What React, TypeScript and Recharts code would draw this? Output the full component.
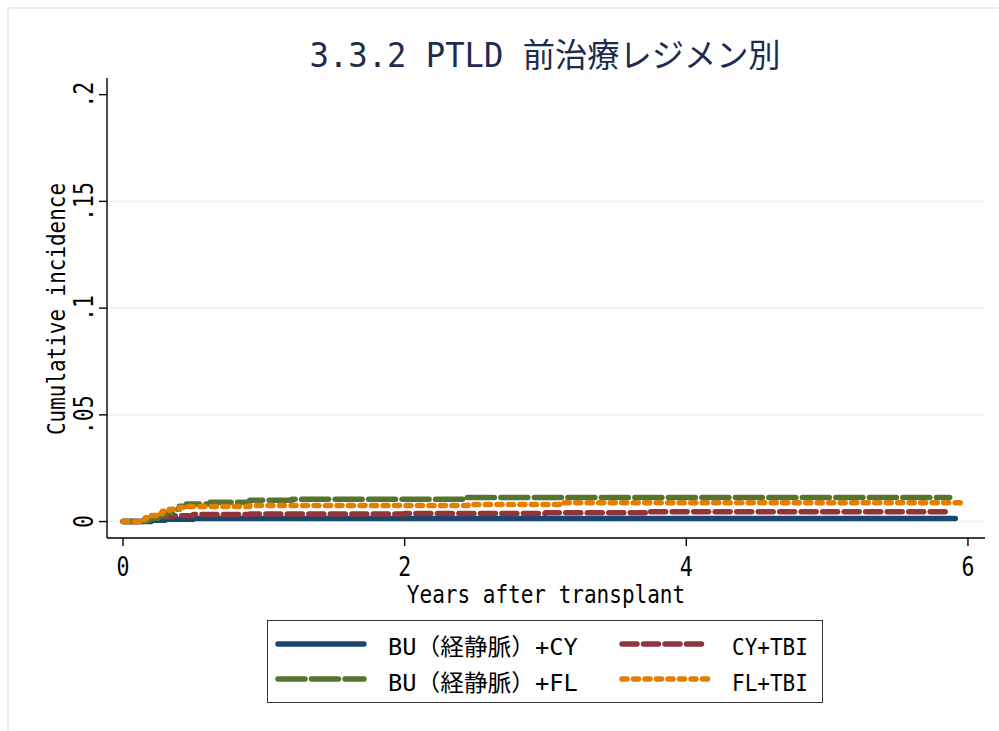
import React from "react";
import { LineChart, Line, XAxis, YAxis, CartesianGrid, Legend } from "recharts";

// cumulative incidence step points
const buCyYears = [0, 0.2, 0.3, 0.5, 5.91];
const buCyInc = [0, 0.0006, 0.0011, 0.0014, 0.0014];

const cyTbiYears = [0, 0.15, 0.2, 0.27, 0.35, 0.5, 0.9, 2.0, 3.0, 3.72, 5.88];
const cyTbiInc = [0, 0.0008, 0.0015, 0.0022, 0.0027, 0.0033, 0.0036, 0.0038, 0.0041, 0.0046, 0.0046];

const buFlYears = [0, 0.15, 0.2, 0.25, 0.3, 0.35, 0.4, 0.45, 0.62, 0.9, 1.2, 2.43, 5.87];
const buFlInc = [0, 0.0005, 0.0015, 0.0027, 0.0042, 0.0058, 0.0072, 0.0082, 0.0091, 0.01, 0.0105, 0.0113, 0.0113];

const flTbiYears = [0, 0.12, 0.16, 0.2, 0.24, 0.28, 0.33, 0.4, 0.45, 0.9, 2.45, 3.12, 5.96];
const flTbiInc = [0, 0.0008, 0.0018, 0.0028, 0.0038, 0.0048, 0.0058, 0.0066, 0.0071, 0.0075, 0.008, 0.0088, 0.0088];

const seriesNames = ["BU（経静脈）+CY", "CY+TBI", "BU（経静脈）+FL", "FL+TBI"];
const xTicks = [0, 2, 4, 6];
const yTicks = [0, 0.05, 0.1, 0.15, 0.2];
const yTickLabels = ["0", ".05", ".1", ".15", ".2"];
const gridValues = [0, 0.05, 0.1, 0.15];

const colors = ["#1a476f", "#90353b", "#55752f", "#e37e00"];
const dashes = ["", "15 6.5", "27 6.5", "5 6.5"];

const toRows = (years: number[], inc: number[]) => years.map((t, i) => ({ t, v: inc[i] }));
const seriesData = [
  toRows(buCyYears, buCyInc),
  toRows(cyTbiYears, cyTbiInc),
  toRows(buFlYears, buFlInc),
  toRows(flTbiYears, flTbiInc),
];

const FONT = "'DejaVu Sans Mono', 'Noto Sans CJK JP', monospace";

// width in "em" units as in a half/full-width gothic font
const emCount = (s: string) =>
  [...s].reduce((n, c) => n + (c.charCodeAt(0) > 0x2e80 ? 1 : 0.5), 0);

function Txt({ x, y, s, size, em, anchor = "middle", fill = "#000", rotate = 0 }: any) {
  return (
    <text
      transform={`translate(${x},${y}) rotate(${rotate})`}
      textAnchor={anchor}
      fontFamily={FONT}
      fontSize={size}
      fill={fill}
      textLength={emCount(s) * em}
      lengthAdjust="spacingAndGlyphs"
    >
      {s}
    </text>
  );
}

const XTick = (props: any) => (
  <Txt x={props.x} y={props.y + 30} s={String(props.payload.value)} size={27} em={26} />
);

const YTick = (props: any) => {
  const idx = yTicks.indexOf(props.payload.value);
  return <Txt x={props.x - 6} y={props.y} s={yTickLabels[idx]} size={27} em={26} rotate={-90} />;
};

// legend laid out like Stata: series 1,2 on row one, 3,4 on row two
const renderLegend = (props: any) => {
  const items = props.payload || [];
  return (
    <div style={{ width: 556, height: 83, border: "1px solid #333", boxSizing: "border-box", background: "#fff" }}>
      <svg width={554} height={81} style={{ display: "block" }}>
        {items.map((it: any) => {
          const i = seriesNames.indexOf(it.value);
          const col = i % 2;
          const row = Math.floor(i / 2);
          const x0 = col === 0 ? 8 : 352;
          const ly = row === 0 ? 23 : 58;
          const ty = row === 0 ? 34 : 70;
          return (
            <g key={it.value}>
              <line
                x1={x0 + 2}
                x2={x0 + 88}
                y1={ly}
                y2={ly}
                stroke={it.color}
                strokeWidth={5.5}
                strokeLinecap="round"
                strokeDasharray={dashes[i] || undefined}
              />
              <Txt x={x0 + 112} y={ty} s={it.value} size={23} em={25.3} anchor="start" />
            </g>
          );
        })}
      </svg>
    </div>
  );
};

export default function App() {
  return (
    <div style={{ position: "absolute", left: 0, top: 0, width: 999, height: 731, background: "#fff", overflow: "hidden" }}>
      <div
        style={{
          position: "absolute",
          left: 7,
          top: 7,
          width: 1000,
          height: 740,
          borderTop: "2px solid #e6eeee",
          borderLeft: "2px solid #e6eeee",
        }}
      />
      <svg width={999} height={100} style={{ position: "absolute", left: 0, top: 0 }}>
        <Txt x={545} y={67} s="3.3.2 PTLD 前治療レジメン別" size={33} em={34.9} fill="#1d2b4f" />
      </svg>
      <div style={{ position: "absolute", left: 0, top: 0 }}>
        <LineChart width={999} height={731} margin={{ top: 78, right: 14, bottom: 0, left: 0 }}>
          <CartesianGrid
            vertical={false}
            horizontalValues={gridValues}
            stroke="#eaf2f3"
            strokeWidth={2}
          />
          <XAxis
            type="number"
            dataKey="t"
            domain={[-0.1136, 6.121]}
            allowDataOverflow
            ticks={xTicks}
            height={193}
            tickSize={8}
            tickMargin={0}
            stroke="#000"
            strokeWidth={1.4}
            tick={XTick}
            label={{
              content: () => (
                <Txt x={546} y={603} s="Years after transplant" size={24} em={25.3} />
              ),
            }}
          />
          <YAxis
            type="number"
            domain={[-0.0077, 0.2078]}
            allowDataOverflow
            ticks={yTicks}
            width={107}
            tickSize={8}
            tickMargin={0}
            stroke="#000"
            strokeWidth={1.4}
            tick={YTick}
            label={{
              content: () => (
                <Txt x={65} y={309} s="Cumulative incidence" size={24} em={25.2} rotate={-90} />
              ),
            }}
          />
          {seriesData.map((d, i) => (
            <Line
              key={seriesNames[i]}
              data={d}
              dataKey="v"
              name={seriesNames[i]}
              type="stepAfter"
              stroke={colors[i]}
              strokeWidth={5.5}
              strokeLinecap="round"
              strokeLinejoin="round"
              strokeDasharray={dashes[i] || undefined}
              dot={false}
              activeDot={false}
              isAnimationActive={false}
            />
          ))}
          <Legend
            layout="horizontal"
            verticalAlign="middle"
            align="center"
            content={renderLegend}
            wrapperStyle={{ left: 267, top: 620, width: 556, height: 83 }}
          />
        </LineChart>
      </div>
    </div>
  );
}
